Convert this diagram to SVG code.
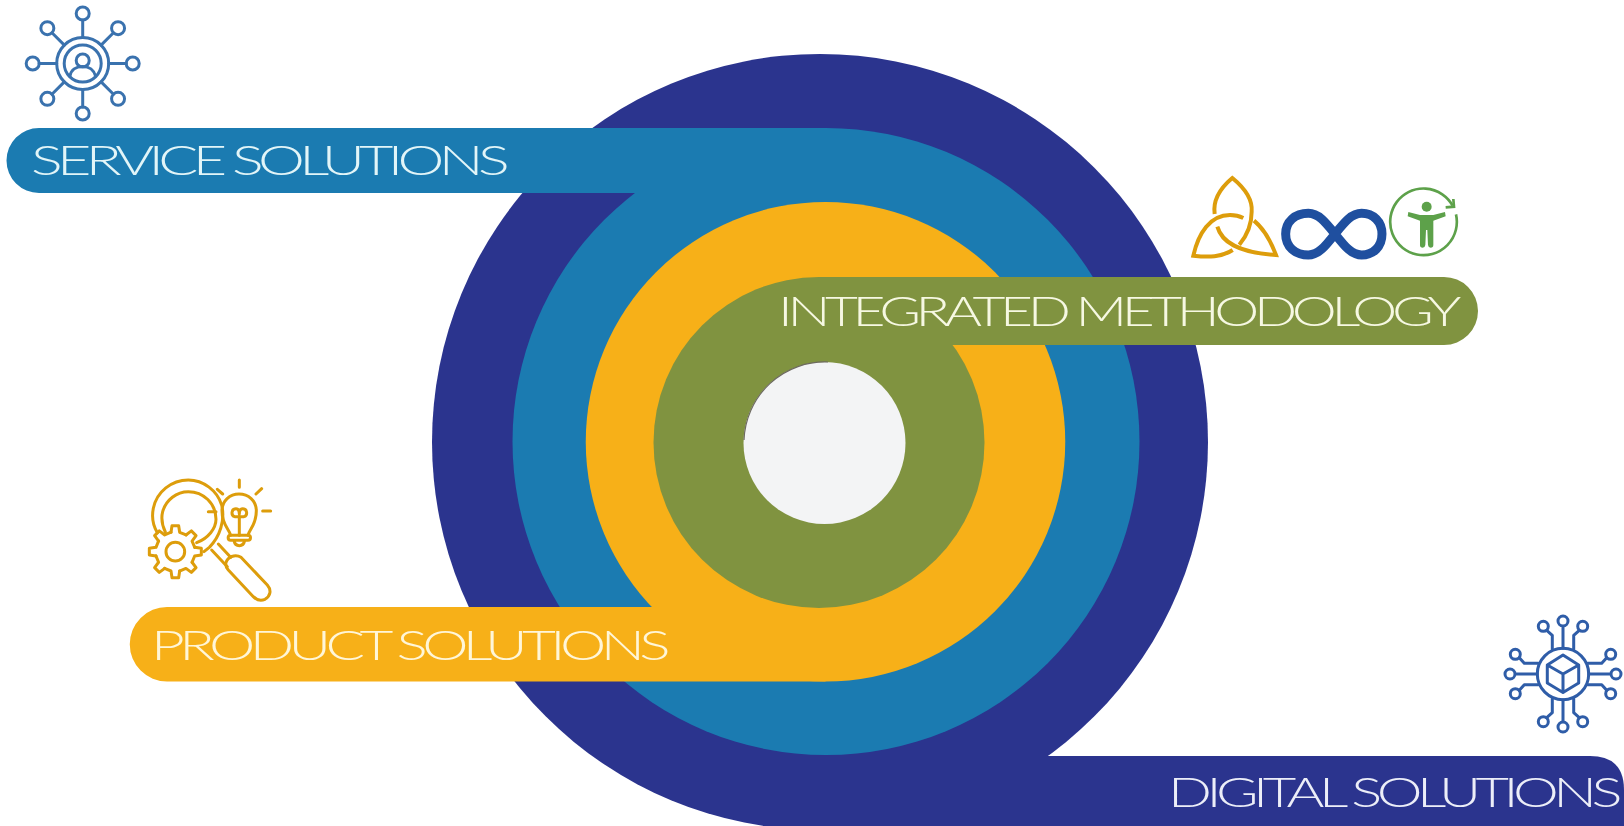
<svg xmlns="http://www.w3.org/2000/svg" width="1624" height="826" viewBox="0 0 1624 826">
<style>
.lbl{font-family:"Lato","Liberation Sans",sans-serif;font-weight:300;font-size:42px;letter-spacing:-4px}
.ln{fill:none;stroke-linecap:round;stroke-linejoin:round}
.i1{stroke:#3a72ae;stroke-width:3}
.i2{stroke:#dd9d0b;stroke-width:9}
.i4{stroke:#2f5da8;stroke-width:3}
</style>
<defs>
<g id="spoke1"><line x1="82.7" y1="37.500" x2="82.7" y2="20"/><circle cx="82.7" cy="13.500" r="6.500"/></g>
<g id="trace4">
<line x1="1563" y1="648" x2="1563" y2="627.500"/><circle cx="1563" cy="620.700" r="5"/>
<path d="M1552.300 649V635L1546.700 630"/><circle cx="1543.300" cy="626" r="5"/>
<path d="M1573.700 649V635L1579.300 630"/><circle cx="1582.700" cy="626" r="5"/>
</g>
<path id="tooth" d="M-13-58L-10-78L10-78L13-58L32.200-50.200"/>
</defs>
<rect width="1624" height="826" fill="#fff"/>

<g id="digital-solutions">
<circle cx="820" cy="442" r="388" fill="#2b348e"/>
<path d="M820 756H1590Q1624 756 1624 790V826H820Z" fill="#2b348e"/>
<text class="lbl" x="1168" y="807" fill="#eceef8" textLength="449" lengthAdjust="spacingAndGlyphs">DIGITAL SOLUTIONS</text>
</g>
<g id="service-solutions">
<circle cx="826" cy="441.500" r="313.500" fill="#1b7bb1"/>
<path d="M826 128H39A32.500 32.500 0 0 0 39 193H650V240H826Z" fill="#1b7bb1"/>
<text class="lbl" x="31" y="175" fill="#e2f5f8" textLength="473" lengthAdjust="spacingAndGlyphs">SERVICE SOLUTIONS</text>
</g>
<g id="product-solutions">
<circle cx="825.500" cy="441.750" r="239.750" fill="#f7b018"/>
<path d="M825.500 681.500H167A37 37 0 0 1 167 607H660V600H825.500Z" fill="#f7b018"/>
<text class="lbl" x="151" y="660" fill="#fff6d8" textLength="514" lengthAdjust="spacingAndGlyphs">PRODUCT SOLUTIONS</text>
</g>
<g id="integrated-methodology">
<circle cx="819" cy="442.500" r="165.500" fill="#809340"/>
<path d="M819 277H1444A34 34 0 0 1 1444 345H940V360H819Z" fill="#809340"/>
<text class="lbl" x="778" y="326" fill="#f6f8e2" textLength="678" lengthAdjust="spacingAndGlyphs">INTEGRATED METHODOLOGY</text>
</g>
<g id="center">
<circle cx="824.500" cy="443" r="81" fill="#f3f4f5"/>
<path d="M744 440A81 81 0 0 1 828 362" fill="none" stroke="#6d6a60" stroke-width="1.200"/>
</g>

<g id="icon-service" class="ln i1">
<circle cx="82.700" cy="63.500" r="26"/>
<circle cx="82.700" cy="63.500" r="18.500"/>
<circle cx="82.700" cy="60.500" r="6.500"/>
<path d="M70 76C71 70 76 66.500 82.700 66.500C89 66.500 94 70 95.500 76"/>
<use href="#spoke1"/>
<use href="#spoke1" transform="rotate(45 82.700 63.500)"/>
<use href="#spoke1" transform="rotate(90 82.700 63.500)"/>
<use href="#spoke1" transform="rotate(135 82.700 63.500)"/>
<use href="#spoke1" transform="rotate(180 82.700 63.500)"/>
<use href="#spoke1" transform="rotate(225 82.700 63.500)"/>
<use href="#spoke1" transform="rotate(270 82.700 63.500)"/>
<use href="#spoke1" transform="rotate(315 82.700 63.500)"/>
</g>

<g id="icon-product" class="ln i2" transform="translate(140 470) scale(.3333)">
<path d="M52 188C38 165 35 140 40 115C50 65 95 30 145 30C190 30 232 62 245 105C256 150 240 200 208 232L192 245"/>
<path d="M76 186C66 165 63 145 68 125C78 90 110 65 145 65C190 65 228 100 228 148C228 175 205 205 170 218"/>
<path d="M205 125H228M215 240L262 290M235 222L272 262"/>
<path d="M258 278C262 262 285 250 303 262L382 345C395 360 392 378 375 388C362 394 350 390 340 380L265 300C258 292 256 285 258 278Z"/>
<circle cx="106" cy="245" r="28"/>
<g transform="translate(106 245)">
<use href="#tooth"/>
<use href="#tooth" transform="rotate(45)"/>
<use href="#tooth" transform="rotate(90)"/>
<use href="#tooth" transform="rotate(135)"/>
<use href="#tooth" transform="rotate(180)"/>
<use href="#tooth" transform="rotate(225)"/>
<use href="#tooth" transform="rotate(270)"/>
<use href="#tooth" transform="rotate(315)"/>
</g>
<path d="M272 196C268 178 246 165 246 122C246 92 270 72 297 72C325 72 349 92 349 122C349 165 328 178 324 196"/>
<path d="M272 196H324C334 196 334 211 324 211H272C262 211 262 196 272 196ZM282 212C286 232 310 232 314 212"/>
<path d="M298 196V140M298 140H284C272 136 274 116 288 116C296 116 298 125 298 132C298 125 300 116 308 116C322 116 324 136 312 140H298"/>
<path d="M298 30V52M348 72L365 56M368 123H392M232 58L248 72"/>
</g>

<g id="icon-triquetra" transform="translate(1180 170) scale(.3333)" fill="none" stroke="#dd9d0b" stroke-width="12" stroke-linejoin="miter" stroke-miterlimit="6">
<path d="M104 132C98 90 120 55 157 24C195 55 218 90 215 125C215 165 198 200 178 224"/>
<path d="M112 170C125 215 170 248 288 255C272 212 250 175 222 152"/>
<path d="M158 240C125 262 85 262 40 257C55 190 90 135 150 135C165 135 178 138 190 144"/>
</g>

<g id="icon-infinity" transform="translate(1170 160) scale(.3333)">
<path d="M495 222C465 185 445 160 415 160C375 160 347 185 347 222C347 260 375 285 415 285C445 285 465 260 495 222C525 185 545 160 575 160C610 160 636 185 636 222C636 260 610 285 575 285C545 285 525 260 495 222Z" fill="none" stroke="#1f4f9f" stroke-width="27"/>
</g>

<g id="icon-accessibility" transform="translate(1385 185) scale(.3333)">
<path d="M203 62A100 100 0 1 0 213 88" fill="none" stroke="#5da14a" stroke-width="8"/>
<path d="M205 42L207 65L182 67" fill="none" stroke="#5da14a" stroke-width="8"/>
<circle cx="125" cy="65" r="15" fill="#5da14a"/>
<path d="M70 81L105 90H145L180 81L182 94L145 107V180Q145 188 137 188Q130 188 129 180L127 135H123L121 180Q120 188 113 188Q105 188 105 180V107L68 94Z" fill="#5da14a"/>
</g>

<g id="icon-digital" class="ln i4">
<circle cx="1563" cy="674" r="25.700"/>
<path d="M1563 655L1578.700 665V683L1563 692.500L1547.300 683V665ZM1547.300 665L1563 674L1578.700 665M1563 674V692.500"/>
<use href="#trace4" transform="translate(0 .3)"/>
<use href="#trace4" transform="rotate(90 1563 674) translate(0 .3)"/>
<use href="#trace4" transform="rotate(180 1563 674) translate(0 .3)"/>
<use href="#trace4" transform="rotate(270 1563 674) translate(0 .3)"/>
</g>
</svg>
